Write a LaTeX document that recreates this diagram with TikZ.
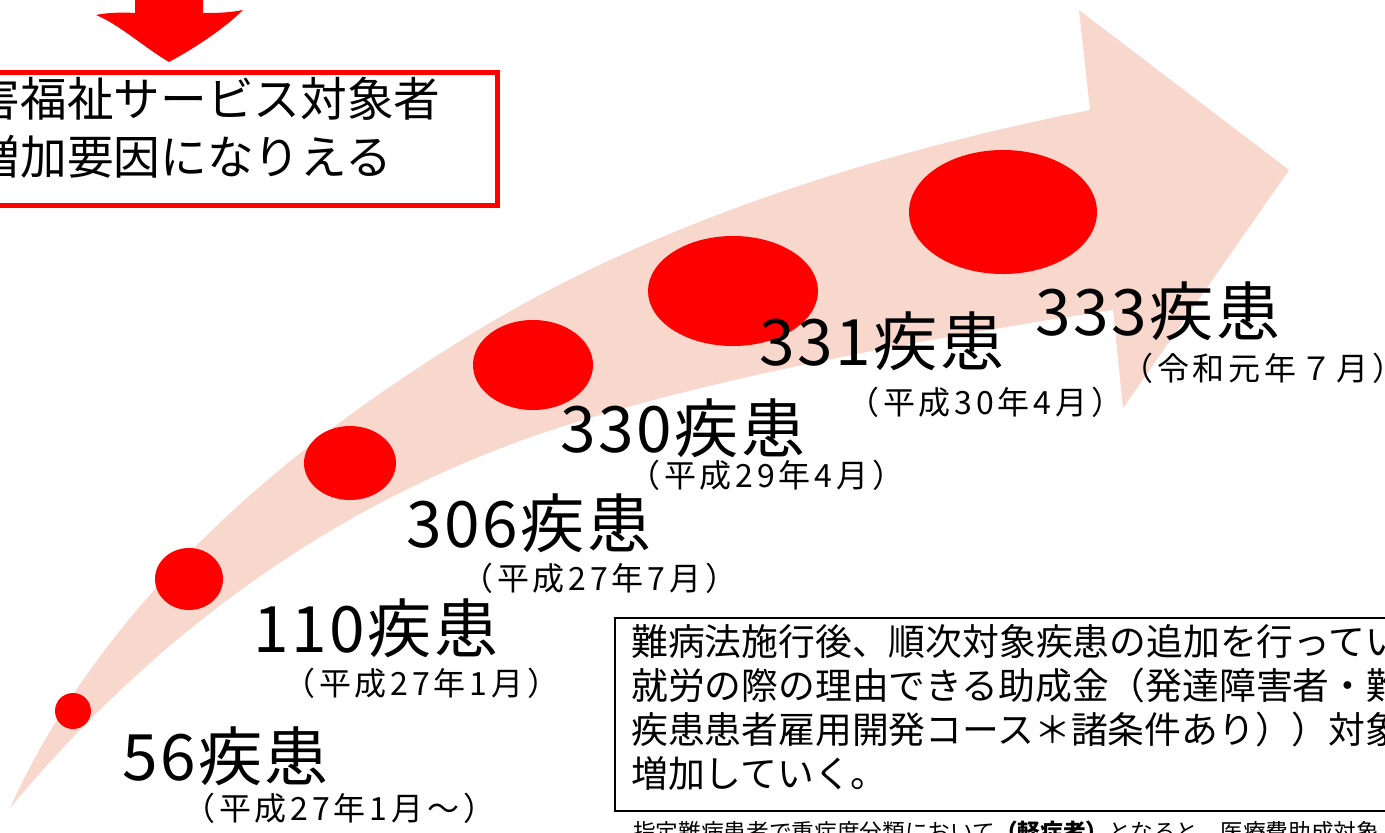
\documentclass[tikz,border=0pt]{standalone}
\usepackage{fontspec}
\usetikzlibrary{shapes.geometric}
\newfontfamily\jp{Noto Sans CJK JP}
\newfontfamily\jpbig{Noto Sans CJK JP}[LetterSpace=4]
\newfontfamily\jpsub{Noto Sans CJK JP}[LetterSpace=12]
\definecolor{band}{RGB}{248,215,205}
\definecolor{jred}{RGB}{255,0,0}
\begin{document}
\begin{tikzpicture}[x=0.75pt,y=-0.75pt,
  dot/.style={fill=jred,draw=none,ellipse,inner sep=0},
  big/.style={font=\jpbig\fontsize{48}{56}\selectfont,inner sep=0,anchor=base west},
  sublbl/.style={font=\jpsub\fontsize{24}{28}\selectfont,inner sep=0,anchor=base west},
  boxtext/.style={font=\jp\fontsize{27.6}{33}\selectfont,inner sep=0,anchor=north west,align=left}]
\useasboundingbox (0,0) rectangle (1385,832);
% curved band arrow
\fill[band] (10,808) .. controls (92,627) and (250,467) .. (483,327)
  .. controls (642,232) and (845,159) .. (1090,110)
  -- (1079,10) -- (1289,170) -- (1123,408) -- (1113,310)
  .. controls (895,343) and (718,379) .. (583,420)
  .. controls (361,487) and (170,616) .. (10,808) -- cycle;
% dots
\node[dot,minimum width=27pt,minimum height=27pt] (e1) at (73,711) {};
\node[dot,minimum width=51pt,minimum height=46.5pt] (e2) at (189,579) {};
\node[dot,minimum width=69pt,minimum height=55.5pt] (e3) at (350,463) {};
\node[dot,minimum width=90pt,minimum height=67.5pt] (e4) at (533,365) {};
\node[dot,minimum width=127.5pt,minimum height=82.5pt] (e5) at (733,291) {};
\node[dot,minimum width=141pt,minimum height=93pt] (e6) at (1003,212) {};
% labels
\node[big] (l1) at (122,780) {56疾患};
\node[sublbl] (s1) at (183,820) {（平成27年1月～）};
\node[big] (l2) at (253,652) {110疾患};
\node[sublbl] (s2) at (283,695) {（平成27年1月）};
\node[big] (l3) at (406,547) {306疾患};
\node[sublbl] (s3) at (461,590) {（平成27年7月）};
\node[big] (l4) at (560,452) {330疾患};
\node[sublbl] (s4) at (628,487) {（平成29年4月）};
\node[big] (l5) at (759,365) {331疾患};
\node[sublbl] (s5) at (847,414) {（平成30年4月）};
\node[big] (l6) at (1035,335) {333疾患};
\node[sublbl] (s6) at (1121,380) {（令和元年７月）};
% top red arrow and box
\fill[jred] (135,-5) -- (135,13) .. controls (120,12) and (105,13) .. (96,15) .. controls (120,25) and (145,48) .. (169,62) .. controls (195,48) and (225,28) .. (243,10) .. controls (228,13) and (215,13) .. (203,13) -- (203,-5) -- cycle;
\node[draw=jred,line width=3.75pt,minimum width=405pt,minimum height=99.75pt,anchor=north east,inner sep=0] (redbox) at (500,70) {};
\node[font=\jp\fontsize{35}{43.5}\selectfont,inner sep=0,anchor=north west,align=left] (redtext) at (-73,77) {障害福祉サービス対象者\\の増加要因になりえる};
% black box
\node[draw=black,line width=1.5pt,minimum width=600pt,minimum height=144.75pt,anchor=north west,inner sep=0] (blackbox) at (614,617) {};
\node[boxtext] (bt) at (631,624) {難病法施行後、順次対象疾患の追加を行ってい\\就労の際の理由できる助成金（発達障害者・難\\疾患患者雇用開発コース＊諸条件あり））対象\\増加していく。};
\node[font=\jp\fontsize{17}{20}\selectfont,inner sep=0,anchor=north west] (note) at (633,821) {指定難病患者で重症度分類において{\bfseries（軽症者）}となると、医療費助成対象};
\end{tikzpicture}
\end{document}
